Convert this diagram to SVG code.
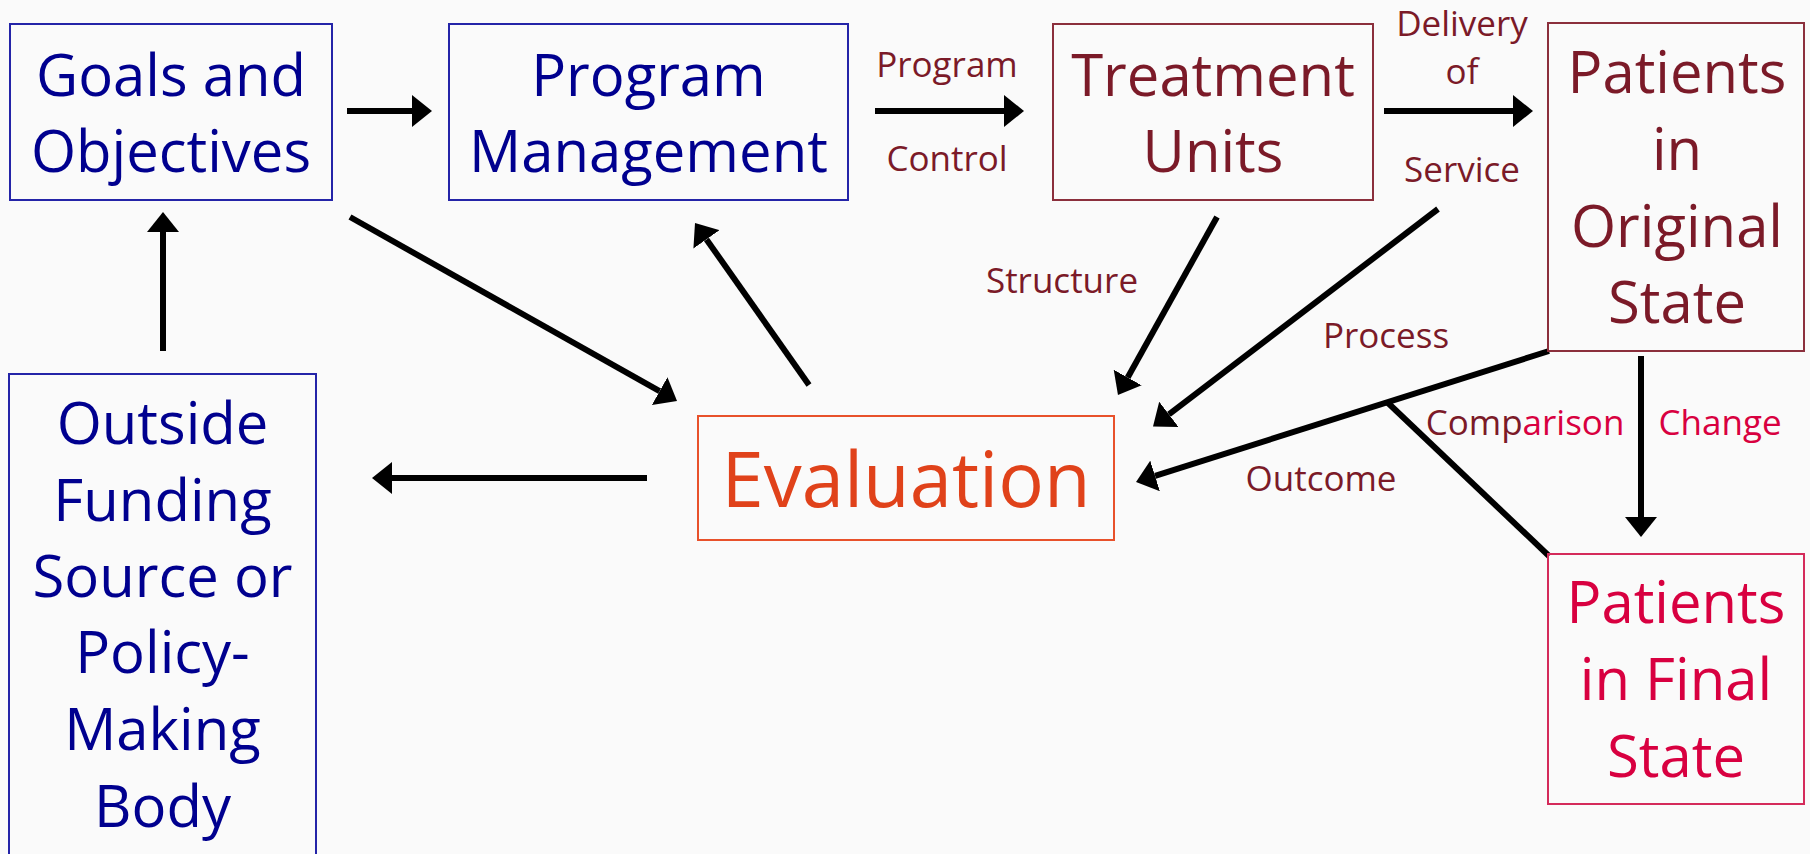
<svg xmlns="http://www.w3.org/2000/svg" width="1810" height="854" viewBox="0 0 1810 854">
<defs>
<style>
text{font-family:"Open Sans","Noto Sans","Liberation Sans",sans-serif;text-anchor:middle}
.big{font-size:58px}
.sm{font-size:35px}
.blue{fill:#00008F}
.mar{fill:#7B1A28}
.crim{fill:#D80040}
.box{fill:none;stroke-width:2}
.bb{stroke:#2424A8}
.mb{stroke:#8B2F3C}
.ob{stroke:#E8512B}
.cb{stroke:#D42A5A}
.edge{stroke:#000;stroke-width:6;fill:none;marker-end:url(#ah)}
</style>
<marker id="ah" markerUnits="userSpaceOnUse" markerWidth="20" markerHeight="32" refX="0" refY="16" orient="auto">
<path d="M0,0 L20,16 L0,32 Z" fill="#000"/>
</marker>
</defs>
<rect width="1810" height="854" fill="#FAFAFA"/>

<g id="connectors">
<line class="edge" x1="347" y1="111" x2="412" y2="111"/>
<line class="edge" x1="875" y1="111" x2="1004" y2="111"/>
<line class="edge" x1="1384" y1="111" x2="1513" y2="111"/>
<line class="edge" x1="163" y1="351" x2="163" y2="232"/>
<line class="edge" x1="350" y1="217" x2="659.6" y2="391.2"/>
<line class="edge" x1="809" y1="385" x2="706.5" y2="239.4"/>
<line class="edge" x1="1217" y1="217" x2="1127.7" y2="377.5"/>
<line class="edge" x1="1438" y1="209" x2="1168.9" y2="414.4"/>
<line class="edge" x1="1549" y1="351" x2="1155.1" y2="475.9"/>
<line x1="1387" y1="402" x2="1549" y2="556" stroke="#000" stroke-width="6"/>
<line class="edge" x1="1641" y1="356" x2="1641" y2="517"/>
<line class="edge" x1="647" y1="478" x2="392" y2="478"/>
<g id="edge-labels">
<text class="sm mar" x="947" y="77">Program</text>
<text class="sm mar" x="947" y="171">Control</text>
<text class="sm mar" x="1462" y="36">Delivery</text>
<text class="sm mar" x="1462" y="84">of</text>
<text class="sm mar" x="1462" y="182">Service</text>
<text class="sm mar" x="1062" y="293">Structure</text>
<text class="sm mar" x="1386" y="348">Process</text>
<text class="sm mar" x="1321" y="491">Outcome</text>
<text class="sm" x="1525" y="435"><tspan class="mar">Comp</tspan><tspan class="crim">arison</tspan></text>
<text class="sm crim" x="1720" y="435">Change</text>
</g>
</g>

<g id="goals">
<rect class="box bb" x="10" y="24" width="322" height="176"/>
<text class="big blue" x="171" y="96">Goals and</text>
<text class="big blue" x="171" y="172">Objectives</text>
</g>

<g id="program">
<rect class="box bb" x="449" y="24" width="399" height="176"/>
<text class="big blue" x="648.5" y="96">Program</text>
<text class="big blue" x="648.5" y="172">Management</text>
</g>

<g id="treatment">
<rect class="box mb" x="1053" y="24" width="320" height="176"/>
<text class="big mar" x="1213" y="96">Treatment</text>
<text class="big mar" x="1213" y="172">Units</text>
</g>

<g id="original">
<rect class="box mb" x="1548" y="23" width="256" height="328"/>
<text class="big mar" x="1677" y="93">Patients</text>
<text class="big mar" x="1677" y="170">in</text>
<text class="big mar" x="1677" y="247">Original</text>
<text class="big mar" x="1677" y="323">State</text>
</g>

<g id="outside">
<rect class="box bb" x="9" y="374" width="307" height="500"/>
<text class="big blue" x="162.5" y="444">Outside</text>
<text class="big blue" x="162.5" y="521">Funding</text>
<text class="big blue" x="162.5" y="597">Source or</text>
<text class="big blue" x="162.5" y="673">Policy-</text>
<text class="big blue" x="162.5" y="750">Making</text>
<text class="big blue" x="162.5" y="827">Body</text>
</g>

<g id="evaluation">
<rect class="box ob" x="698" y="416" width="416" height="124"/>
<text x="906" y="507" style="font-size:76px;fill:#E0421A">Evaluation</text>
</g>

<g id="final">
<rect class="box cb" x="1548" y="554" width="256" height="250"/>
<text class="big crim" x="1676" y="623">Patients</text>
<text class="big crim" x="1676" y="700">in Final</text>
<text class="big crim" x="1676" y="777">State</text>
</g>
</svg>
